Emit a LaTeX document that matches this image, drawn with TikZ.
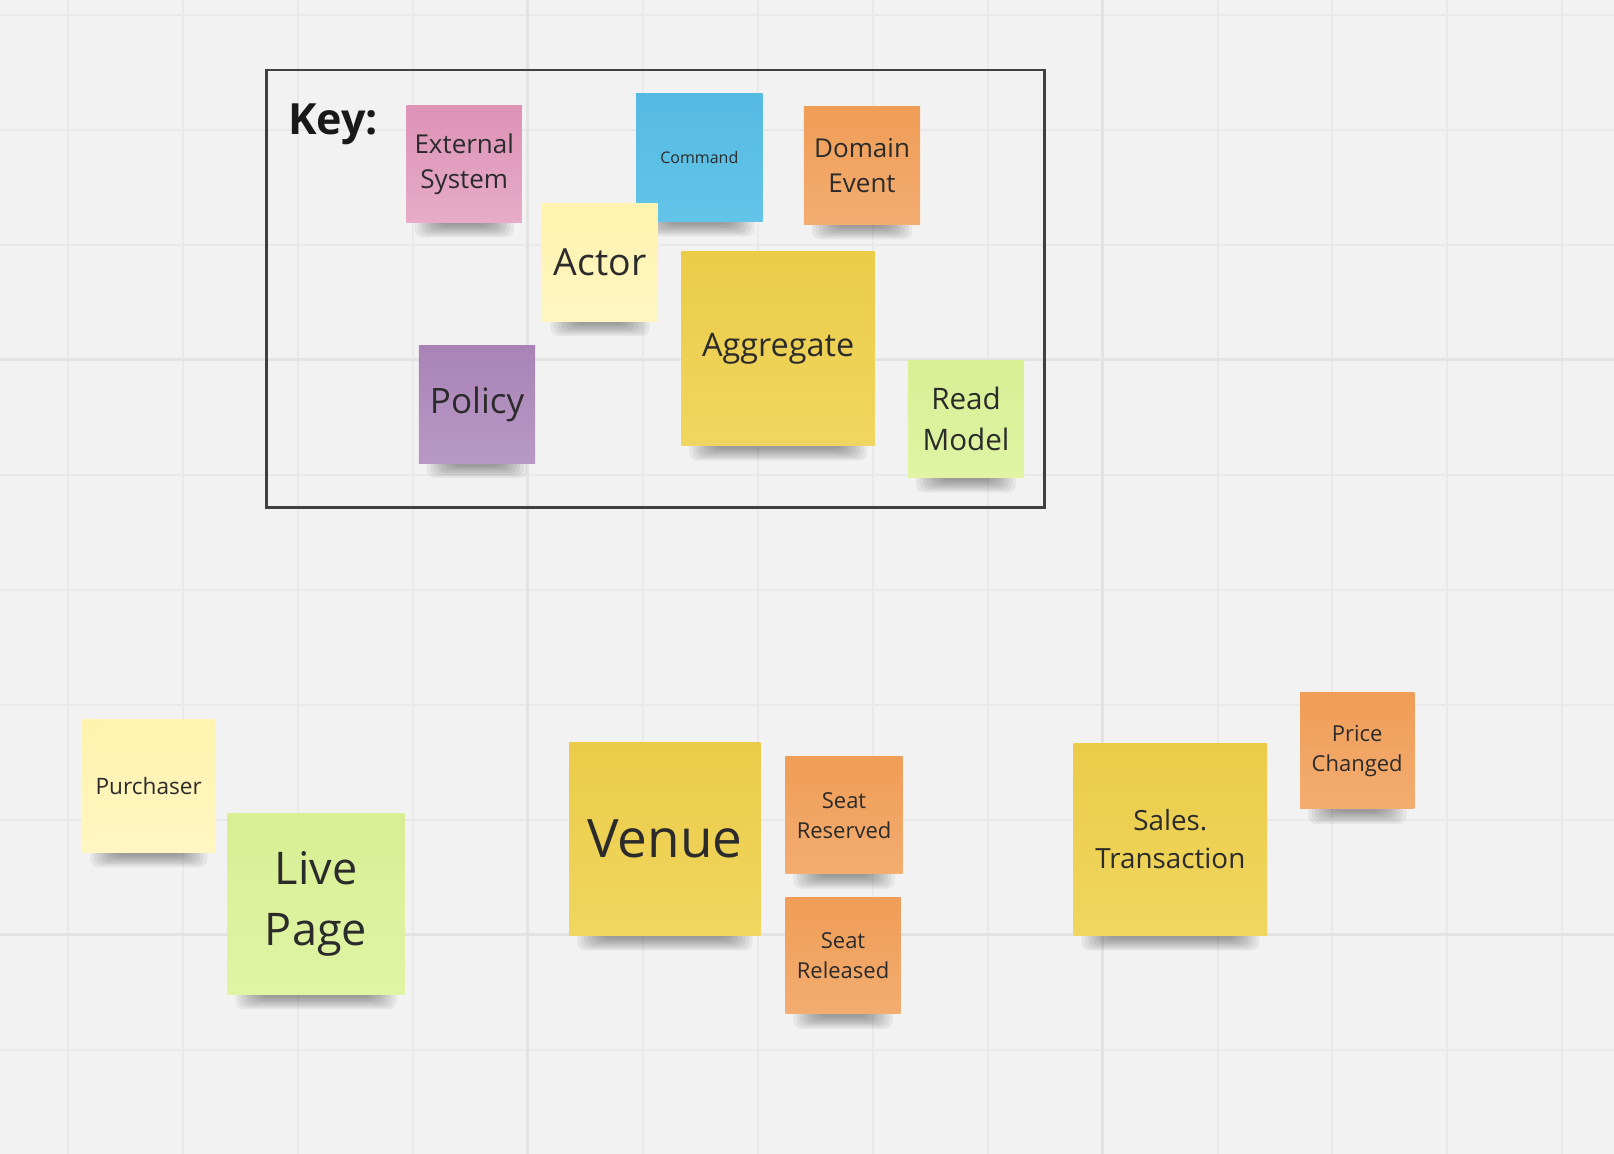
\documentclass[tikz,border=0pt]{standalone}
\usepackage{fontspec}
\setmainfont{Open Sans}
\definecolor{bg}{HTML}{F2F2F2}
\definecolor{gridminor}{HTML}{E9E9E9}
\definecolor{gridmajor}{HTML}{E3E3E3}
\definecolor{ink}{HTML}{2B2B2B}
\definecolor{pinkT}{HTML}{DD92B6}\definecolor{pinkB}{HTML}{E6ACC8}
\definecolor{blueT}{HTML}{55BAE2}\definecolor{blueB}{HTML}{63C4E8}
\definecolor{oranT}{HTML}{F09D57}\definecolor{oranB}{HTML}{F3AD70}
\definecolor{lyelT}{HTML}{FFF3AE}\definecolor{lyelB}{HTML}{FFF6C2}
\definecolor{yelT}{HTML}{EBCC48}\definecolor{yelB}{HTML}{F0D660}
\definecolor{purT}{HTML}{A983B6}\definecolor{purB}{HTML}{B899C5}
\definecolor{grnT}{HTML}{D8EF94}\definecolor{grnB}{HTML}{E0F4A4}
\tikzset{
  stickynote/.style={rectangle, inner sep=0pt, align=center, text=ink},
  keybox/.style={draw=ink!90, line width=1.25pt},
  noteshadow/.style={fill=black, opacity=0.05, rounded corners=4pt}
}
\newcommand\sticky[9]{%
  \pgfmathsetmacro\sw{(#4-#2)*0.5}%
  \pgfmathsetmacro\sh{(#5-#3)*0.5}%
  \pgfmathsetmacro\scx{(#2+#4)/2}%
  \pgfmathsetmacro\scy{(#3+#5)/2}%
  \pgfmathsetmacro\lsk{#8*1.36}%
  \foreach \i in {0,...,7}{%
    \fill[noteshadow] ({#2+8+3.5*\i},{#5-6}) rectangle ({#4-8-3.5*\i},{#5+15-1.7*\i});
  }%
  \node[stickynote, top color=#6T, bottom color=#7B, minimum width=\sw pt, minimum height=\sh pt,
        font=\fontsize{#8pt}{\lsk pt}\selectfont] (#1) at (\scx,\scy) {#9};%
}
\begin{document}
\begin{tikzpicture}[x=0.5pt,y=-0.5pt]
\useasboundingbox (0,0) rectangle (1614,1154);
\fill[bg] (0,0) rectangle (1614,1154);
% grid
\foreach \k in {0,...,13}{
  \draw[gridminor, line width=1pt] ({68+114.95*\k},0) -- ({68+114.95*\k},1154);
}
\foreach \k in {0,...,9}{
  \draw[gridminor, line width=1pt] (0,{15+115*\k}) -- (1614,{15+115*\k});
}
\foreach \xx in {527.8,1102.6}{\draw[gridmajor, line width=1.5pt] (\xx,0) -- (\xx,1154);}
\foreach \yy in {360,935}{\draw[gridmajor, line width=1.5pt] (0,\yy) -- (1614,\yy);}
% key box
\draw[keybox] (266.6,70) rectangle (1044.7,507.4);
\node[anchor=base west, font=\fontsize{21.5pt}{26pt}\selectfont\bfseries, text=black!90, inner sep=0pt] (key) at (288,135) {Key:};
% key notes
\sticky{ext}{406.6}{106}{521.9}{222.3}{pink}{pink}{13}{External\\System}
\sticky{cmd}{636}{93.7}{762.7}{221.3}{blue}{blue}{8}{Command}
\sticky{dev}{803.9}{107}{920.2}{224.4}{oran}{oran}{13}{Domain\\Event}
\sticky{actor}{542.4}{203.8}{657.7}{321.1}{lyel}{lyel}{18.7}{Actor}
\sticky{agg}{681.4}{251.2}{874.9}{445.7}{yel}{yel}{16.2}{Aggregate}
\sticky{policy}{418.9}{345.8}{535.2}{463.2}{pur}{pur}{17.5}{Policy}
\sticky{readm}{907.8}{360.3}{1024.2}{477.6}{grn}{grn}{14.8}{Read\\Model}
% board notes
\sticky{purch}{82.3}{719.5}{215.1}{852.3}{lyel}{lyel}{11.3}{Purchaser}
\sticky{live}{227.5}{813.1}{404.5}{994.3}{grn}{grn}{22.5}{Live\\Page}
\sticky{venue}{569.2}{742.1}{760.7}{935.6}{yel}{yel}{26.5}{Venue}
\sticky{seatres}{785.4}{756.5}{902.7}{873.9}{oran}{oran}{11}{Seat\\Reserved}
\sticky{seatrel}{785.4}{897.5}{900.7}{1013.9}{oran}{oran}{11}{Seat\\Released}
\sticky{sales}{1073.6}{743.2}{1267.1}{935.6}{yel}{yel}{13.9}{Sales.\\Transaction}
\sticky{price}{1300}{692.7}{1414.3}{809}{oran}{oran}{11}{Price\\Changed}
\end{tikzpicture}
\end{document}
